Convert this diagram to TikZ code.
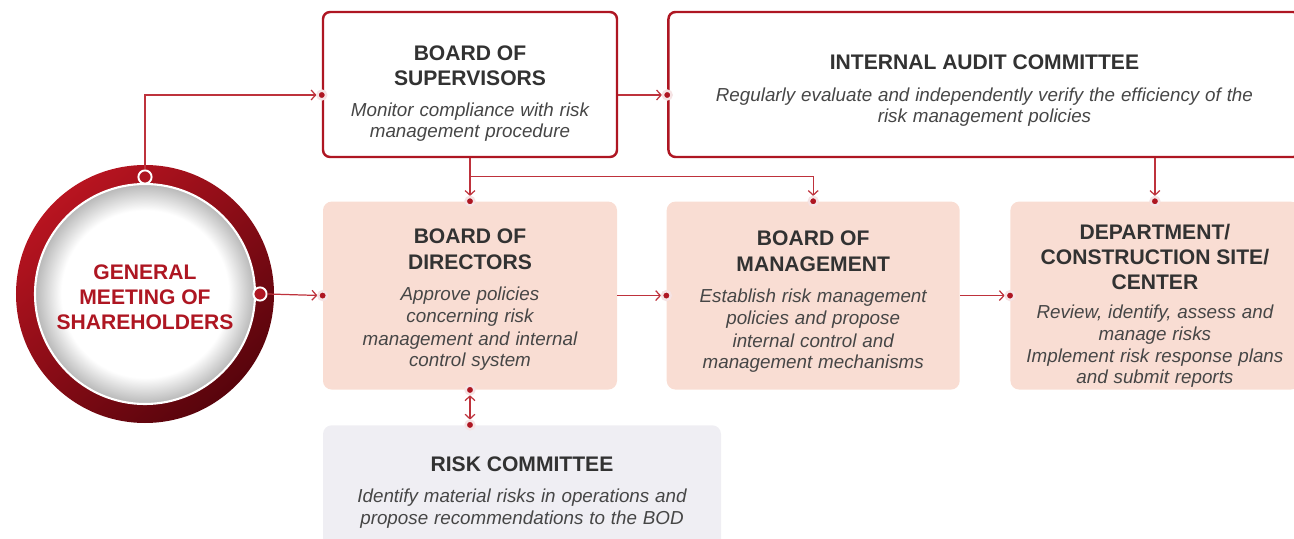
\documentclass[tikz,border=0pt]{standalone}
\usepackage{fontspec}
\setmainfont{Liberation Sans}
\usepackage{xcolor}
\usepackage{tikz}
\usetikzlibrary{arrows.meta, positioning, calc}

\definecolor{brandred}{RGB}{174,22,34}
\definecolor{ringlight}{RGB}{184,20,32}
\definecolor{ringdark}{RGB}{88,4,12}
\definecolor{linkred}{RGB}{190,50,60}
\definecolor{softpink}{RGB}{249,221,211}
\definecolor{softgray}{RGB}{239,238,243}
\definecolor{titlegray}{RGB}{50,50,50}
\definecolor{textgray}{RGB}{70,70,70}

\pgfdeclareradialshading{innerrim}{\pgfpoint{0bp}{0bp}}{color(0bp)=(white); color(19bp)=(white); color(25bp)=(black!28); color(50bp)=(black!28)}

\newcommand{\boxhead}{\fontsize{12}{14.7}\selectfont\bfseries\color{titlegray}}
\newcommand{\boxdesc}{\normalfont\fontsize{10.7}{12.8}\selectfont\itshape\color{textgray}}
\newcommand{\headroom}[1]{\rule{0pt}{#1}}

\tikzstyle{linebox} = [rectangle, rounded corners=4pt, draw=brandred, line width=1.4pt, fill=white, align=center]
\tikzstyle{pinkbox} = [rectangle, rounded corners=5pt, fill=softpink, align=center]
\tikzstyle{greybox} = [rectangle, rounded corners=5pt, fill=softgray, align=center]
\tikzstyle{arrow} = [linkred, line width=0.7pt, -{Straight Barb[length=2.6pt,width=5.6pt]}, shorten >=3pt]
\tikzstyle{twoway} = [arrow, {Straight Barb[length=2.6pt,width=5.6pt]}-{Straight Barb[length=2.6pt,width=5.6pt]}, shorten <=3pt]
\tikzstyle{dot} = [circle, fill=brandred, draw=brandred!12, line width=1.4pt, inner sep=0pt, minimum size=5pt]
\tikzstyle{ringdot} = [circle, fill=brandred, draw=white, line width=1.1pt, inner sep=0pt, minimum size=7.5pt]

\begin{document}
\begin{tikzpicture}
    \useasboundingbox (0,0) rectangle (25.88,10.76);
    \clip (0,0) rectangle (25.88,10.76);

    % shareholders ring
    \coordinate (gmsc) at (2.9,4.88);
    \shade[top color=ringlight, bottom color=ringdark, shading angle=40] (gmsc) circle (2.58);
    \shade[shading=innerrim] (gmsc) circle (2.2);
    \draw[white, line width=1.2pt] (gmsc) circle (2.2);
    \node[align=center, text=brandred, font=\fontsize{12}{14.2}\selectfont\bfseries] (gms) at ($(gmsc)+(0,-0.06)$) {GENERAL\\MEETING OF\\SHAREHOLDERS};
    \node[ringdot] (gmstop) at ($(gmsc)+(0,2.34)$) {};
    \node[ringdot] (gmsright) at ($(gmsc)+(2.3,0)$) {};

    \node[linebox, minimum width=5.88cm, minimum height=2.9cm, text width=5.5cm] (sup) at (9.4,9.07)
        {\boxhead\headroom{18.8pt}BOARD OF\\SUPERVISORS\par\vspace{4.8pt}\boxdesc Monitor compliance with risk\\management procedure};
    \node[linebox, minimum width=12.64cm, minimum height=2.9cm, text width=12cm, right=0.98cm of sup] (audit)
        {\boxhead\headroom{15.4pt}INTERNAL AUDIT COMMITTEE\par\vspace{5.2pt}\boxdesc Regularly evaluate and independently verify the efficiency of the\\risk management policies};
    \node[pinkbox, minimum width=5.88cm, minimum height=3.76cm, text width=5.5cm, below=0.86cm of sup] (dir)
        {\boxhead\headroom{13.1pt}BOARD OF\\DIRECTORS\par\vspace{4.8pt}\boxdesc Approve policies\\concerning risk\\management and internal\\control system};
    \node[pinkbox, minimum width=5.86cm, minimum height=3.76cm, text width=5.5cm, right=0.98cm of dir] (mgmt)
        {\boxhead\headroom{15.4pt}BOARD OF\\MANAGEMENT\par\vspace{4.8pt}\boxdesc Establish risk management\\policies and propose\\internal control and\\management mechanisms};
    \node[pinkbox, minimum width=5.78cm, minimum height=3.76cm, text width=5.5cm, inner ysep=0pt, right=1cm of mgmt] (dept)
        {\boxhead\fontsize{12}{14.2}\selectfont\headroom{20pt}DEPARTMENT/\\CONSTRUCTION SITE/\\CENTER\par\vspace{4.6pt}\boxdesc\fontsize{10.7}{12.3}\selectfont Review, identify, assess and\\manage risks\\Implement risk response plans\\and submit reports};
    \node[greybox, minimum width=7.96cm, minimum height=2.68cm, text width=7.5cm, below=0.7cm of dir.south west, anchor=north west] (risk)
        {\boxhead RISK COMMITTEE\par\vspace{5.2pt}\boxdesc Identify material risks in operations and\\propose recommendations to the BOD};

    \coordinate (supin) at ($(sup.west)+(0,-0.21)$);
    \coordinate (supout) at ($(sup.east)+(0,-0.21)$);
    \coordinate (auditin) at ($(audit.west)+(0,-0.21)$);
    \coordinate (risktop) at (dir.south |- risk.north);

    \draw[arrow] (gmstop.north) |- (supin);
    \draw[arrow] (supout) -- (auditin);
    \draw[arrow] (sup.south) -- (dir.north);
    \draw[arrow] ($(sup.south)+(0,-0.36)$) -| (mgmt.north);
    \draw[arrow] (audit.south -| dept.north) -- (dept.north);
    \draw[arrow] (gmsright.east) -- (dir.west);
    \draw[arrow] (dir.east) -- (mgmt.west);
    \draw[arrow] (mgmt.east) -- (dept.west);
    \draw[twoway] (dir.south) -- (risktop);

    \foreach \p in {supin, auditin, dir.north, mgmt.north, dept.north, dir.west, mgmt.west, dept.west, dir.south, risktop}
        \node[dot] at (\p) {};
\end{tikzpicture}
\end{document}
